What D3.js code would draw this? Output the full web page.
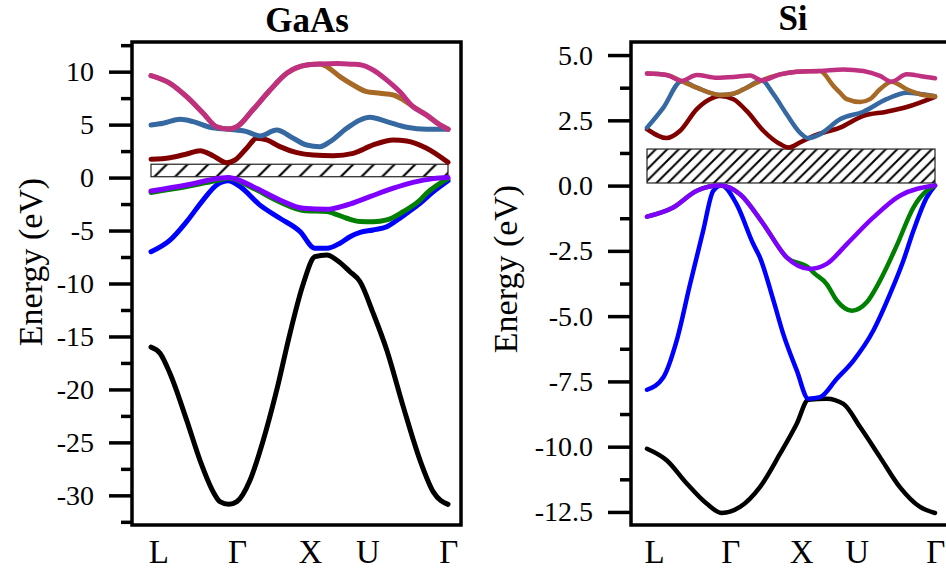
<!DOCTYPE html>
<html>
<head>
<meta charset="utf-8">
<script src="https://cdn.jsdelivr.net/npm/d3@7"></script>
<style>
  body { margin: 0; background: #fff; }
  text { font-family: "Liberation Serif", "Times New Roman", serif; fill: #000; }
</style>
</head>
<body>
<svg id="chart" width="946" height="571"></svg>
<script>
// k runs 0..1 along the path L-Γ-X-U-Γ, energies in eV
const kLabels = ["L", "Γ", "X", "U", "Γ"];
const kLabelPos = [0.026, 0.291, 0.537, 0.730, 1.003];
const bandColors = ["#000000", "#0000ff", "#008000", "#8000ff", "#800000", "#3669a1", "#a66a26", "#c03080"];

// ---- GaAs ----
const gaasBand1 = [[0,-16.0],[0.031,-16.6],[0.064,-18.5],[0.120,-22.9],[0.165,-26.7],[0.210,-29.7],[0.232,-30.6],[0.262,-30.85],[0.289,-30.6],[0.333,-28.6],[0.378,-24.8],[0.423,-20.1],[0.468,-14.7],[0.513,-10.0],[0.552,-7.47],[0.592,-7.31],[0.625,-7.78],[0.670,-8.89],[0.704,-9.83],[0.748,-12.8],[0.794,-16.3],[0.849,-21.6],[0.906,-26.7],[0.951,-29.7],[1.0,-30.85]];
const gaasBand2 = [[0,-7.0],[0.064,-5.9],[0.120,-4.16],[0.176,-2.1],[0.221,-0.7],[0.260,-0.3],[0.300,-0.86],[0.367,-2.6],[0.434,-3.84],[0.502,-5.1],[0.552,-6.68],[0.592,-6.68],[0.636,-6.2],[0.670,-5.58],[0.704,-5.17],[0.748,-4.95],[0.794,-4.64],[0.826,-4.07],[0.861,-3.37],[0.906,-2.43],[0.951,-1.33],[1.0,-0.3]];
const gaasBand3 = [[0,-1.4],[0.120,-0.85],[0.232,-0.2],[0.260,-0.05],[0.344,-1.0],[0.434,-2.3],[0.513,-3.1],[0.592,-3.2],[0.614,-3.37],[0.659,-3.84],[0.704,-4.15],[0.748,-4.17],[0.794,-4.0],[0.849,-3.22],[0.906,-2.12],[0.928,-1.48],[0.973,-0.54],[1.0,-0.1]];
const gaasBand4 = [[0,-1.27],[0.120,-0.7],[0.232,-0.07],[0.260,0],[0.344,-0.86],[0.434,-2.12],[0.513,-2.9],[0.592,-3.0],[0.659,-2.59],[0.737,-1.8],[0.816,-1.0],[0.882,-0.45],[0.951,-0.1],[1.0,0]];
const gaasBand5 = [[0,1.73],[0.064,1.88],[0.120,2.23],[0.165,2.54],[0.210,2.04],[0.255,1.41],[0.283,1.66],[0.322,2.77],[0.356,3.71],[0.390,3.55],[0.434,2.92],[0.491,2.35],[0.546,2.13],[0.614,2.07],[0.681,2.29],[0.748,3.08],[0.816,3.55],[0.861,3.46],[0.928,2.77],[1.0,1.44]];
const gaasBand6 = [[0,4.97],[0.041,5.13],[0.098,5.5],[0.142,5.28],[0.199,4.75],[0.260,4.56],[0.322,4.34],[0.367,3.93],[0.423,4.5],[0.479,3.71],[0.524,3.08],[0.569,2.92],[0.603,3.39],[0.659,4.65],[0.704,5.44],[0.737,5.69],[0.794,5.28],[0.861,4.75],[0.928,4.56],[1.0,4.56]];
const gaasBand7 = [[0,9.62],[0.064,8.9],[0.120,7.64],[0.175,6.1],[0.221,4.8],[0.260,4.59],[0.289,4.8],[0.343,6.4],[0.401,8.27],[0.457,9.85],[0.524,10.63],[0.569,10.72],[0.592,10.47],[0.636,9.53],[0.681,8.74],[0.726,8.11],[0.771,7.96],[0.816,7.8],[0.849,7.33],[0.882,6.7],[0.928,5.9],[0.973,4.97],[1.0,4.56]];
const gaasBand8 = [[0,9.62],[0.064,8.9],[0.120,7.64],[0.175,6.1],[0.221,4.8],[0.260,4.59],[0.289,4.8],[0.343,6.4],[0.401,8.27],[0.457,9.85],[0.524,10.63],[0.569,10.72],[0.625,10.77],[0.680,10.7],[0.704,10.65],[0.748,10.16],[0.794,9.2],[0.838,8.1],[0.882,6.7],[0.928,5.9],[0.973,4.97],[1.0,4.56]];
const gaasGap = [0.08, 1.26];
const gaasMajorTicks = [10, 5, 0, -5, -10, -15, -20, -25, -30];
const gaasMinorTicks = [12.5, 7.5, 2.5, -2.5, -7.5, -12.5, -17.5, -22.5, -27.5, -32.5];

// ---- Si ----
const siBand1 = [[0,-10.08],[0.068,-10.52],[0.138,-11.41],[0.207,-12.18],[0.259,-12.54],[0.323,-12.31],[0.392,-11.55],[0.462,-10.27],[0.520,-9.12],[0.560,-8.2],[0.624,-8.16],[0.682,-8.36],[0.740,-9.25],[0.809,-10.4],[0.878,-11.55],[0.948,-12.31],[1.0,-12.54]];
const siBand2 = [[0,-7.82],[0.057,-7.34],[0.103,-5.94],[0.149,-3.8],[0.195,-1.73],[0.230,-0.2],[0.259,0],[0.311,-0.71],[0.369,-2.24],[0.392,-2.75],[0.439,-4.4],[0.473,-5.68],[0.520,-7.08],[0.560,-8.16],[0.601,-8.1],[0.659,-7.4],[0.717,-6.7],[0.786,-5.55],[0.844,-4.15],[0.890,-2.88],[0.925,-1.73],[0.971,-0.46],[1.0,0]];
const siBand3 = [[0,-1.19],[0.091,-0.84],[0.173,-0.2],[0.253,0],[0.323,-0.33],[0.404,-1.47],[0.485,-2.75],[0.566,-3.19],[0.577,-3.32],[0.624,-3.77],[0.659,-4.4],[0.711,-4.79],[0.763,-4.47],[0.809,-3.64],[0.867,-2.3],[0.925,-0.84],[0.971,-0.2],[1.0,0]];
const siBand4 = [[0,-1.19],[0.091,-0.84],[0.173,-0.2],[0.253,0],[0.323,-0.33],[0.404,-1.47],[0.485,-2.75],[0.566,-3.19],[0.624,-3.0],[0.694,-2.24],[0.786,-1.22],[0.878,-0.39],[1.0,0]];
const siBand5 = [[0,2.16],[0.068,1.82],[0.115,2.1],[0.173,2.93],[0.230,3.37],[0.253,3.43],[0.300,3.31],[0.346,2.86],[0.404,2.1],[0.462,1.59],[0.491,1.46],[0.531,1.65],[0.577,1.9],[0.670,2.22],[0.751,2.67],[0.832,2.83],[0.902,3.01],[1.0,3.4]];
const siBand6 = [[0,2.22],[0.057,2.99],[0.120,4.0],[0.173,3.75],[0.253,3.47],[0.300,3.52],[0.346,3.75],[0.398,4.03],[0.439,3.5],[0.485,2.73],[0.531,2.03],[0.560,1.82],[0.601,1.97],[0.670,2.54],[0.751,2.83],[0.832,3.31],[0.902,3.56],[1.0,3.42]];
const siBand7 = [[0,4.29],[0.068,4.24],[0.120,4.0],[0.173,3.75],[0.253,3.47],[0.300,3.52],[0.346,3.75],[0.398,4.03],[0.462,4.26],[0.520,4.36],[0.601,4.39],[0.647,3.82],[0.670,3.56],[0.694,3.31],[0.740,3.2],[0.774,3.31],[0.809,3.69],[0.849,3.98],[0.902,3.69],[0.948,3.5],[1.0,3.42]];
const siBand8 = [[0,4.29],[0.068,4.24],[0.120,4.01],[0.173,4.24],[0.242,4.13],[0.300,4.16],[0.358,4.22],[0.398,4.03],[0.462,4.26],[0.520,4.36],[0.601,4.39],[0.682,4.45],[0.751,4.39],[0.809,4.2],[0.849,3.98],[0.902,4.26],[0.948,4.2],[1.0,4.11]];
const siGap = [0.1, 1.4];
const siMajorTicks = [5, 2.5, 0, -2.5, -5, -7.5, -10, -12.5];
const siMinorTicks = [3.75, 1.25, -1.25, -3.75, -6.25, -8.75, -11.25];

const svg = d3.select("#chart");
const defs = svg.append("defs");

function addHatch(id, step, width) {
    const p = defs.append("pattern").attr("id", id)
        .attr("patternUnits", "userSpaceOnUse")
        .attr("width", step).attr("height", step);
    p.append("path")
        .attr("d", `M0,${step} L${step},0 M-2,2 L2,-2 M${step - 2},${step + 2} L${step + 2},${step - 2}`)
        .attr("stroke", "#000").attr("stroke-width", width);
}
addHatch("hatchGaAs", 20.7, 2.2);
addHatch("hatchSi", 11.5, 2);

function drawPanel(cfg) {
    const top = 42, bottom = 525;
    const g = svg.append("g");
    const x = d3.scaleLinear().domain([0, 1]).range([cfg.dataLeft, cfg.dataRight]);
    const y = d3.scaleLinear().domain(cfg.yDomain).range([bottom, top]);

    // minor ticks
    g.append("g").attr("transform", `translate(${cfg.left},0)`)
        .call(d3.axisLeft(y).tickValues(cfg.minor).tickSize(11).tickFormat(""))
        .call(a => a.select(".domain").remove())
        .selectAll("line").attr("stroke-width", 3.5);

    // major ticks
    g.append("g").attr("transform", `translate(${cfg.left},0)`)
        .call(d3.axisLeft(y).tickValues(cfg.major).tickSize(23).tickPadding(15).tickFormat(cfg.fmt))
        .call(a => a.select(".domain").remove())
        .call(a => a.selectAll("line").attr("stroke-width", 3.5))
        .call(a => a.selectAll("text").style("font-family", '"Liberation Serif", serif').attr("font-size", 28));

    // band gap box
    g.append("rect")
        .attr("x", x(0)).attr("y", y(cfg.gap[1]))
        .attr("width", x(1) - x(0)).attr("height", y(cfg.gap[0]) - y(cfg.gap[1]))
        .attr("fill", `url(#${cfg.hatch})`)
        .attr("stroke", "#222").attr("stroke-width", 1.2);

    const line = d3.line().x(d => x(d[0])).y(d => y(d[1])).curve(d3.curveMonotoneX);
    cfg.bands.forEach((b, i) => {
        g.append("path").datum(b)
            .attr("d", line)
            .attr("fill", "none")
            .attr("stroke", bandColors[i])
            .attr("stroke-width", cfg.lw)
            .attr("stroke-linecap", "round")
            .attr("stroke-linejoin", "round");
    });

    // frame
    g.append("rect")
        .attr("x", cfg.left).attr("y", top)
        .attr("width", cfg.right - cfg.left).attr("height", bottom - top)
        .attr("fill", "none").attr("stroke", "#000").attr("stroke-width", 3.5);

    // k-point labels
    g.selectAll(".klab").data(kLabels).enter().append("text")
        .attr("x", (d, i) => x(kLabelPos[i]))
        .attr("y", 563)
        .attr("text-anchor", "middle")
        .attr("font-size", 33)
        .text(d => d);

    // title
    g.append("text")
        .attr("x", cfg.titleX).attr("y", cfg.titleY)
        .attr("text-anchor", "middle")
        .attr("font-size", 35).attr("font-weight", "bold")
        .text(cfg.title);

    // y label
    g.append("text")
        .attr("transform", `translate(${cfg.ylabX},${cfg.ylabY}) rotate(-90)`)
        .attr("text-anchor", "middle")
        .attr("dy", "0.35em")
        .attr("font-size", 34)
        .text("Energy (eV)");
}

drawPanel({
    title: "GaAs", titleX: 307, titleY: 32,
    left: 132, right: 461, dataLeft: 151, dataRight: 448,
    yDomain: [-32.8, 12.8],
    major: gaasMajorTicks, minor: gaasMinorTicks, fmt: d => String(d),
    gap: gaasGap, hatch: "hatchGaAs", lw: 5,
    bands: [gaasBand1, gaasBand2, gaasBand3, gaasBand4, gaasBand5, gaasBand6, gaasBand7, gaasBand8],
    ylabX: 30, ylabY: 262
});

drawPanel({
    title: "Si", titleX: 793, titleY: 30,
    left: 631, right: 960, dataLeft: 647, dataRight: 935,
    yDomain: [-13, 5.5],
    major: siMajorTicks, minor: siMinorTicks, fmt: d => d.toFixed(1),
    gap: siGap, hatch: "hatchSi", lw: 4.5,
    bands: [siBand1, siBand2, siBand3, siBand4, siBand5, siBand6, siBand7, siBand8],
    ylabX: 505, ylabY: 269
});
</script>
</body>
</html>
